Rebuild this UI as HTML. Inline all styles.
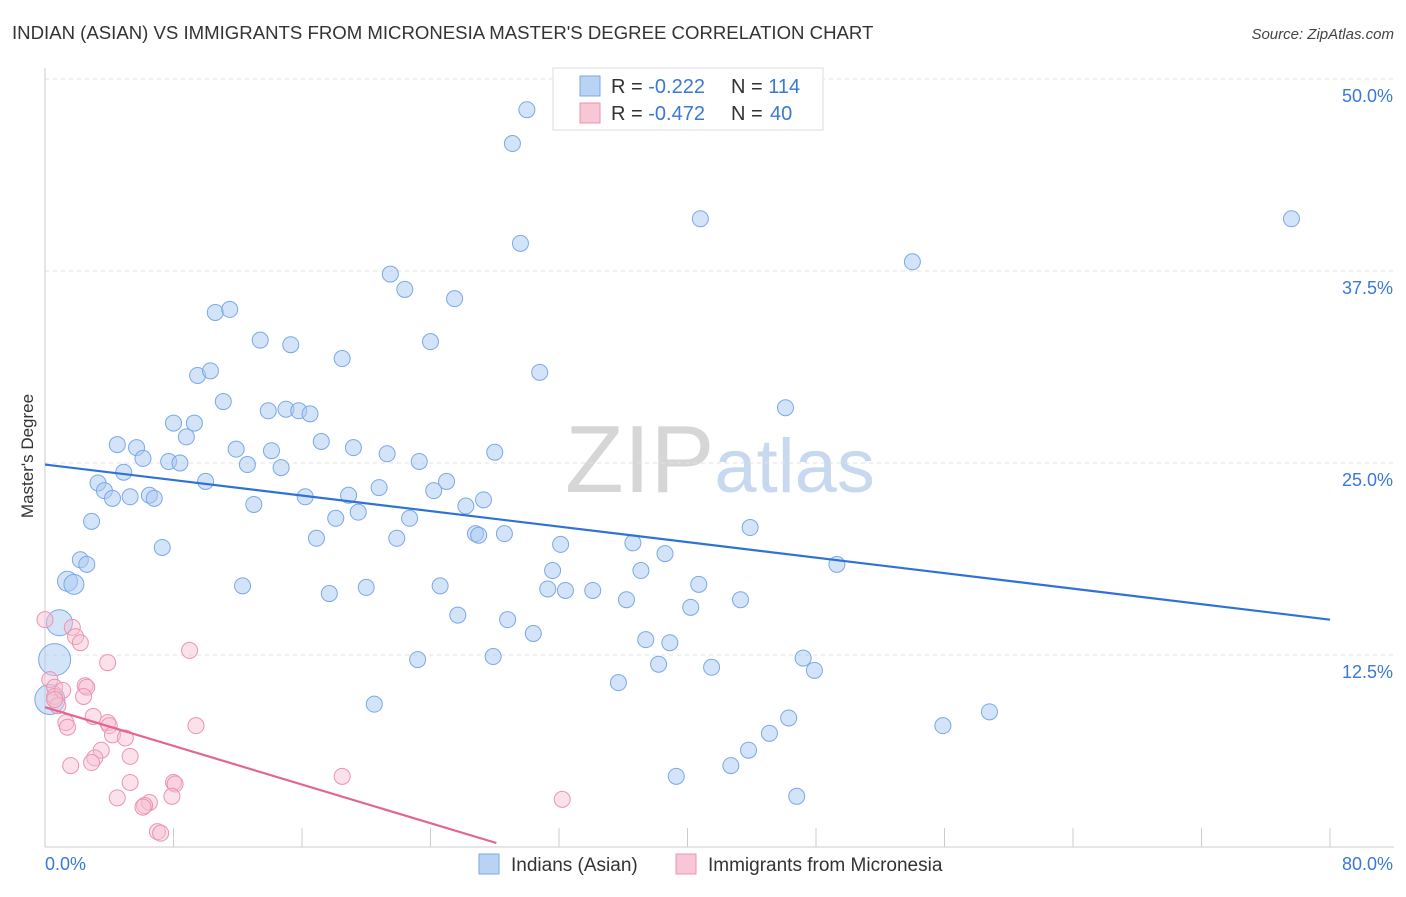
<!DOCTYPE html>
<html><head><meta charset="utf-8"><style>
body{margin:0;background:#fff;font-family:"Liberation Sans",sans-serif;}
svg text{font-family:"Liberation Sans",sans-serif;}
</style></head><body>
<svg id="chart" width="1406" height="892" xmlns="http://www.w3.org/2000/svg">
<text x="12" y="39" font-size="18.6" fill="#333">INDIAN (ASIAN) VS IMMIGRANTS FROM MICRONESIA MASTER'S DEGREE CORRELATION CHART</text>
<text x="1394" y="39" font-size="15" fill="#444" text-anchor="end" font-style="italic">Source: ZipAtlas.com</text>
<text x="720" y="492" font-size="96" text-anchor="middle" fill="#ddd" font-family="Liberation Serif,serif"><tspan fill="#d6d6d6">ZIP</tspan><tspan fill="#c7d8ef" font-family="Liberation Sans,sans-serif" font-size="76">atlas</tspan></text>
<g id="grid"></g>
<g id="axes"></g>
<g id="marks"></g>
<text transform="translate(33,456) rotate(-90)" font-size="17" fill="#333" text-anchor="middle">Master's Degree</text>
<g>
<rect x="553" y="68" width="270" height="62" fill="#fff" stroke="#ddd"/>
<rect x="580" y="76" width="20" height="20" fill="#b8d3f4" stroke="#7aa8e6"/>
<rect x="580" y="103" width="20" height="20" fill="#f9c6d6" stroke="#ec93b0"/>
<text x="611" y="93" font-size="20" fill="#333">R = <tspan fill="#3a78d6">-0.222</tspan></text>
<text x="731" y="93" font-size="20" fill="#333">N = <tspan fill="#3a78d6">114</tspan></text>
<text x="611" y="120" font-size="20" fill="#333">R = <tspan fill="#3a78d6">-0.472</tspan></text>
<text x="731" y="120" font-size="20" fill="#333">N = </text>
<text x="770" y="120" font-size="20" fill="#3a78d6">40</text>
</g>
<g>
<rect x="479" y="854" width="20" height="20" fill="#b8d3f4" stroke="#7aa8e6"/>
<text x="511" y="871" font-size="19" fill="#333">Indians (Asian)</text>
<rect x="676" y="854" width="20" height="20" fill="#f9c6d6" stroke="#ec93b0"/>
<text x="708" y="871" font-size="19" fill="#333">Immigrants from Micronesia</text>
</g>
</svg>
<script>
const xTicks=[0,8,16,24,32,40,48,56,64,72,80];
const yTicks=[12.5,25,37.5,50];
const yTickLabels=["12.5%","25.0%","37.5%","50.0%"];
const blueX=[30.0,29.1,29.6,40.8,77.6,54.0,21.5,22.4,25.5,10.6,11.5,13.4,15.3,18.5,24.0,30.8,9.5,10.3,11.1,13.9,15.0,15.8,16.5,46.1,8.0,9.3,8.8,4.5,5.7,11.9,14.1,17.2,19.2,21.3,28.0,6.1,7.7,8.4,12.6,14.7,23.3,4.9,10.0,3.3,3.7,4.2,5.3,6.5,6.8,13.0,16.2,18.9,20.8,24.2,25.0,26.2,27.3,2.9,18.1,19.5,22.7,26.8,27.0,28.6,16.9,21.9,43.9,7.3,2.2,2.6,32.1,36.6,38.6,49.3,1.4,1.8,12.3,17.7,20.0,24.6,31.6,31.3,32.4,34.1,37.1,40.7,36.2,40.2,43.3,25.7,28.8,30.4,37.4,38.9,0.9,23.2,27.9,38.2,41.5,47.2,47.9,35.7,0.6,20.5,0.3,46.3,55.9,58.8,45.1,43.8,42.7,39.3,46.8];
const blueY=[48.0,45.8,39.3,40.9,40.9,38.1,37.3,36.3,35.7,34.8,35.0,33.0,32.7,31.8,32.9,30.9,30.7,31.0,29.0,28.4,28.5,28.4,28.2,28.6,27.6,27.6,26.7,26.2,26.0,25.9,25.8,26.4,26.0,25.6,25.7,25.3,25.1,25.0,24.9,24.7,25.1,24.4,23.8,23.7,23.2,22.7,22.8,22.9,22.7,22.3,22.8,22.9,23.4,23.2,23.8,22.2,22.6,21.2,21.4,21.8,21.4,20.4,20.3,20.4,20.1,20.1,20.8,19.5,18.7,18.4,19.7,19.8,19.1,18.4,17.3,17.1,17.0,16.5,16.9,17.0,18.0,16.8,16.7,16.7,18.0,17.1,16.1,15.6,16.1,15.1,14.8,13.9,13.5,13.3,14.6,12.2,12.4,11.9,11.7,12.3,11.5,10.7,12.2,9.3,9.6,8.4,7.9,8.8,7.4,6.3,5.3,4.6,3.3];
const blueSize=blueX.map((x,i)=>i===94?13:(i===102?16:(i===104?15:(x<2&&blueY[i]>16.5&&blueY[i]<18?10:8))));
const pinkX=[0.0,1.7,1.9,2.2,3.9,9.0,0.3,0.6,0.6,2.5,2.6,1.1,2.4,0.8,3.0,1.3,1.4,3.9,4.0,4.2,5.0,3.5,3.1,2.9,5.3,9.4,1.6,5.3,8.0,8.1,7.9,4.5,6.5,6.2,6.1,18.5,32.2,7.0,7.2,0.6];
const pinkY=[14.8,14.3,13.7,13.3,12.0,12.8,10.9,10.4,9.8,10.5,10.4,10.2,9.8,9.2,8.5,8.1,7.8,8.1,7.9,7.3,7.1,6.3,5.8,5.5,5.9,7.9,5.3,4.2,4.2,4.1,3.3,3.2,2.9,2.7,2.6,4.6,3.1,1.0,0.9,9.6];
const blueTrend=[24.9,14.8];
const pinkTrend=[[0,9.1],[28.1,0.26]];
const NS="http://www.w3.org/2000/svg";
const X=v=>45+v*(1285/80);
const Y=v=>847-v*15.36;
function mk(tag,attrs,parent){const e=document.createElementNS(NS,tag);for(const k in attrs)e.setAttribute(k,attrs[k]);parent.appendChild(e);return e;}
const grid=document.getElementById('grid'),axes=document.getElementById('axes'),marks=document.getElementById('marks');
yTicks.forEach((t,i)=>{
 const l=mk('line',{x1:45,x2:1394,y1:Y(t),y2:Y(t),stroke:'#e2e2e2','stroke-dasharray':'4,4'},grid);
 
 
 const tx=mk('text',{x:1393,y:Y(t)+23,'font-size':18,fill:'#3a78d6','text-anchor':'end'},axes);
 tx.textContent=yTickLabels[i];
 
 
});
const ax=mk('line',{x1:45,x2:1394,y1:847,y2:847,stroke:'#ccc'},axes);


const ay=mk('line',{x1:45,x2:45,y1:68,y2:847,stroke:'#ccc'},axes);


xTicks.forEach(t=>{
 const l=mk('line',{x1:X(t),x2:X(t),y1:828,y2:847,stroke:'#ccc'},axes);
 
 
});
const x0=mk('text',{x:45,y:870,'font-size':18,fill:'#3a78d6'},axes);x0.textContent=xTicks[0].toFixed(1)+'%';


const x1=mk('text',{x:1393,y:870,'font-size':18,fill:'#3a78d6','text-anchor':'end'},axes);x1.textContent=xTicks[10].toFixed(1)+'%';


blueX.forEach((x,i)=>{
 const c=mk('circle',{cx:X(x),cy:Y(blueY[i]),r:blueSize[i],fill:'rgba(170,202,242,0.5)',stroke:'#7aa8e6','stroke-width':1},marks);
 
 
});
pinkX.forEach((x,i)=>{
 const c=mk('circle',{cx:X(x),cy:Y(pinkY[i]),r:8,fill:'rgba(247,190,208,0.45)',stroke:'#ec93b0','stroke-width':1},marks);
 
 
});
const bl=mk('line',{x1:X(0),y1:Y(blueTrend[0]),x2:X(80),y2:Y(blueTrend[1]),stroke:'#2f72d6','stroke-width':2.2},marks);


const pl=mk('line',{x1:X(pinkTrend[0][0]),y1:Y(pinkTrend[0][1]),x2:X(pinkTrend[1][0]),y2:Y(pinkTrend[1][1]),stroke:'#e2668f','stroke-width':2.2},marks);


</script>
</body></html>
